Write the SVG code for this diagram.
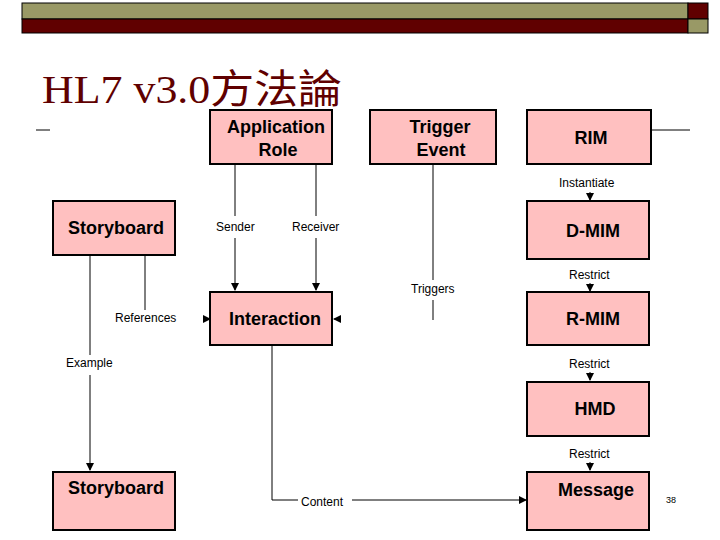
<svg xmlns="http://www.w3.org/2000/svg" width="720" height="540" viewBox="0 0 720 540">
<style>
.n{fill:#ffc0c0;stroke:#000;stroke-width:2}
.t{font-family:"Liberation Sans",Arial,sans-serif;font-weight:bold;font-size:18px;fill:#000}
.s{font-family:"Liberation Sans",Arial,sans-serif;font-size:12px;fill:#000}
.l{stroke:#000;stroke-width:1;fill:none}
.w{fill:#fff}
</style>
<defs><marker id="a" markerWidth="8" markerHeight="8" refX="7" refY="4" orient="auto" markerUnits="userSpaceOnUse"><path d="M0,0 L8,4 L0,8 z" fill="#000"/></marker></defs>
<rect width="720" height="540" fill="#fff"/>
<rect x="22" y="3" width="666" height="16" fill="#999966" stroke="#000"/>
<rect x="22" y="19" width="666" height="14" fill="#600000" stroke="#000"/>
<rect x="688" y="3" width="20" height="16" fill="#600000" stroke="#000"/>
<rect x="688" y="19" width="20" height="14" fill="#999966" stroke="#000"/>
<text x="42" y="103" font-family="Liberation Serif,'Noto Sans CJK TC',serif" font-size="40" textLength="300" lengthAdjust="spacingAndGlyphs" fill="#600000">HL7 v3.0方法論</text>
<line x1="36" y1="130" x2="50" y2="130" class="l"/>
<line x1="652" y1="130" x2="690" y2="130" class="l"/>
<g id="connectors">
<line x1="235" y1="165" x2="235" y2="290" class="l" marker-end="url(#a)"/>
<line x1="316" y1="165" x2="316" y2="290" class="l" marker-end="url(#a)"/>
<line x1="433" y1="165" x2="433" y2="320" class="l"/>
<line x1="90" y1="256" x2="90" y2="470" class="l" marker-end="url(#a)"/>
<line x1="145" y1="256" x2="145" y2="310" class="l"/>
<line x1="204" y1="319" x2="210" y2="319" class="l" marker-end="url(#a)"/>
<line x1="340" y1="319" x2="334" y2="319" class="l" marker-end="url(#a)"/>
<polyline points="272,346 272,500 526,500" class="l" marker-end="url(#a)"/>
<line x1="590" y1="192" x2="590" y2="200" class="l" marker-end="url(#a)"/>
<line x1="590" y1="283" x2="590" y2="291" class="l" marker-end="url(#a)"/>
<line x1="590" y1="372" x2="590" y2="380" class="l" marker-end="url(#a)"/>
<line x1="590" y1="462" x2="590" y2="470" class="l" marker-end="url(#a)"/>
<rect class="w" x="212" y="216" width="54" height="22"/>
<rect class="w" x="288" y="216" width="64" height="22"/>
<rect class="w" x="407" y="280" width="60" height="20"/>
<rect class="w" x="112" y="310" width="78" height="18"/>
<rect class="w" x="62" y="355" width="62" height="20"/>
<rect class="w" x="298" y="493" width="54" height="18"/>
<text class="s" x="216" y="231">Sender</text>
<text class="s" x="292" y="231">Receiver</text>
<text class="s" x="411" y="293">Triggers</text>
<text class="s" x="115" y="322">References</text>
<text class="s" x="66" y="367">Example</text>
<text class="s" x="301" y="506">Content</text>
<text class="s" x="559" y="187">Instantiate</text>
<text class="s" x="569" y="279">Restrict</text>
<text class="s" x="569" y="368">Restrict</text>
<text class="s" x="569" y="458">Restrict</text>
</g>
<g id="approle"><rect class="n" x="210" y="110" width="122" height="54"/><text class="t" x="276" y="133" text-anchor="middle">Application</text><text class="t" x="278" y="156" text-anchor="middle">Role</text></g>
<g id="trigger"><rect class="n" x="370" y="110" width="126" height="54"/><text class="t" x="440" y="133" text-anchor="middle">Trigger</text><text class="t" x="441" y="156" text-anchor="middle">Event</text></g>
<g id="rim"><rect class="n" x="527" y="110" width="124" height="54"/><text class="t" x="591" y="144" text-anchor="middle">RIM</text></g>
<g id="sb1"><rect class="n" x="53" y="201" width="122" height="54"/><text class="t" x="68" y="234">Storyboard</text></g>
<g id="dmim"><rect class="n" x="527" y="201" width="122" height="58"/><text class="t" x="593" y="237" text-anchor="middle">D-MIM</text></g>
<g id="inter"><rect class="n" x="210" y="292" width="122" height="53"/><text class="t" x="229" y="325">Interaction</text></g>
<g id="rmim"><rect class="n" x="527" y="292" width="122" height="53"/><text class="t" x="593" y="325" text-anchor="middle">R-MIM</text></g>
<g id="hmd"><rect class="n" x="527" y="382" width="122" height="54"/><text class="t" x="595" y="415" text-anchor="middle">HMD</text></g>
<g id="sb2"><rect class="n" x="53" y="472" width="122" height="58"/><text class="t" x="68" y="494">Storyboard</text></g>
<g id="msg"><rect class="n" x="527" y="472" width="122" height="58"/><text class="t" x="596" y="496" text-anchor="middle">Message</text></g>
<text x="666" y="503" font-family="Liberation Sans,sans-serif" font-size="9">38</text>
</svg>
